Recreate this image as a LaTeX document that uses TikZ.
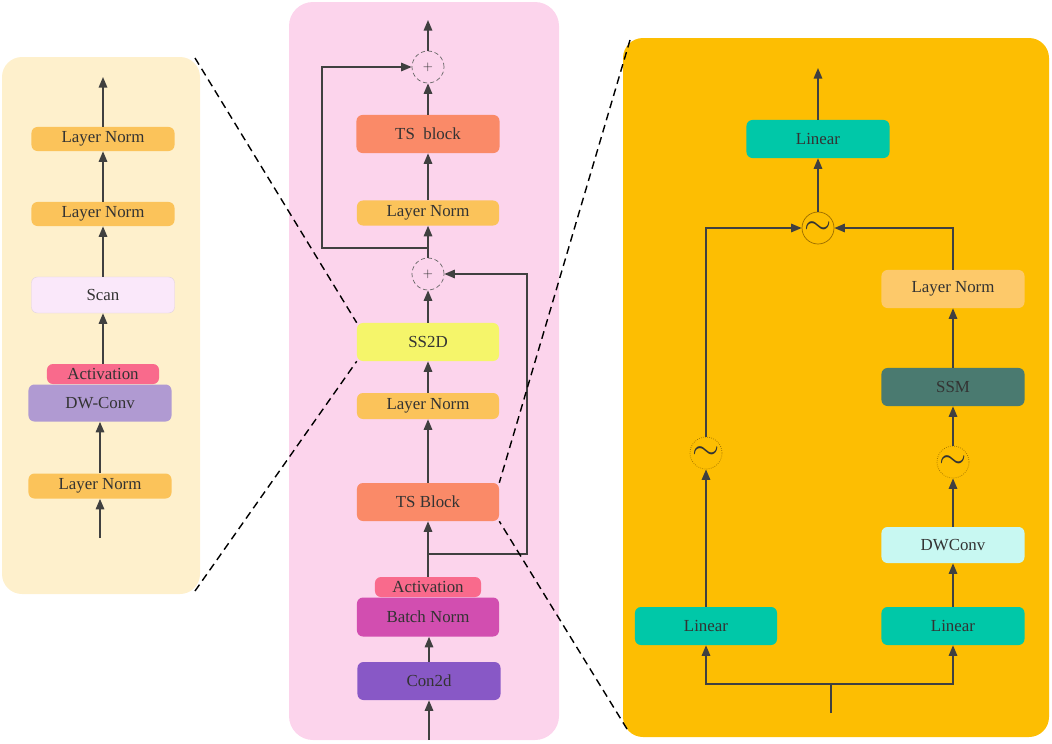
\documentclass[tikz,border=0pt]{standalone}
\usepackage{fontspec}
\setmainfont{Liberation Serif}
\newfontfamily\boxfont{Liberation Serif}
\usetikzlibrary{arrows.meta}

\definecolor{txtgray}{HTML}{333333}
\definecolor{linegray}{HTML}{404040}
\definecolor{leftbg}{HTML}{FEF0CC}
\definecolor{midbg}{HTML}{FCD4EC}
\definecolor{rightbg}{HTML}{FDBE02}
\definecolor{normfill}{HTML}{FBC35A}
\definecolor{scanfill}{HTML}{FAE8FA}
\definecolor{actfill}{HTML}{F96A8C}
\definecolor{dwfill}{HTML}{B09AD2}
\definecolor{tsfill}{HTML}{FA8A68}
\definecolor{ssfill}{HTML}{F5F56A}
\definecolor{bnfill}{HTML}{D24EB0}
\definecolor{convfill}{HTML}{8858C6}
\definecolor{linfill}{HTML}{00C8A8}
\definecolor{lnrfill}{HTML}{FDC96A}
\definecolor{ssmfill}{HTML}{4A7A70}
\definecolor{dwrfill}{HTML}{C8F8F2}
\definecolor{mixline}{HTML}{9A6C00}

\tikzset{
  blk/.style={rounded corners=0.15cm, inner sep=0pt, minimum width=3.575cm,
    minimum height=0.95cm, text=txtgray, font=\boxfont\fontsize{12}{14}\selectfont},
  nrm/.style={blk, fill=normfill, minimum height=0.6cm},
  act/.style={blk, fill=actfill, minimum height=0.5cm},
  arr/.style={draw=linegray, line width=1.2pt, -{Triangle[length=7.5pt,width=6pt]}},
  wire/.style={draw=linegray, line width=1.2pt},
  addop/.style={circle, draw=gray!80!black, densely dashed, line width=0.5pt,
    minimum size=0.8cm, inner sep=0pt, text=txtgray, font=\small},
  mixop/.style={circle, draw=mixline, line width=0.5pt,
    minimum size=0.8cm, inner sep=0pt, text=txtgray},
  zoomline/.style={line width=1pt, dash pattern=on 5.5pt off 3.5pt}
}

\newcommand{\mixsign}{\fontsize{24}{24}\selectfont$\sim$}

\begin{document}
\begin{tikzpicture}[x=0.025cm, y=-0.025cm]
\useasboundingbox (0,0) rectangle (1052,743);

% Panels
\fill [leftbg, rounded corners=0.5cm] (2,57) rectangle (200,594);%
\fill [midbg, rounded corners=0.6cm] (289,2) rectangle (559,740);%
\fill [rightbg, rounded corners=0.5cm] (623,38) rectangle (1049,737);%

% Left panel: scan module
\node [nrm] (lnA) at (103,139) {Layer Norm};%
\node [nrm] (lnB) at (103,214) {Layer Norm};%
\node [blk, fill=scanfill, draw=scanfill!80!gray, line width=0.3pt, minimum height=0.9cm] (scan) at (103,295) {Scan};%
\node [act, minimum width=2.8cm] (actL) at (103,374) {Activation};%
\node [blk, fill=dwfill, minimum height=0.925cm] (dwc) at (100,403) {DW-Conv};%
\node [nrm, minimum height=0.625cm] (lnC) at (100,486) {Layer Norm};%
\coordinate (inL) at (100,538);%
\coordinate (outL) at (103,77);%

\draw [arr] (inL) -- (lnC.south);%
\draw [arr] (lnC.north) -- (dwc.south);%
\draw [arr] (actL.north) -- (scan.south);%
\draw [arr] (scan.north) -- (lnB.south);%
\draw [arr] (lnB.north) -- (lnA.south);%
\draw [arr] (lnA.north) -- (outL);%

% Middle panel: main block
\node [addop] (plusT) at (428,67) {$+$};%
\node [blk, fill=tsfill] (tsT) at (428,134) {TS\ \ block};%
\node [nrm, minimum width=3.55cm, minimum height=0.625cm] (lnM1) at (428,213) {Layer Norm};%
\node [addop] (plusM) at (428,274) {$+$};%
\node [blk, fill=ssfill, minimum width=3.55cm] (ss2d) at (428,342) {SS2D};%
\node [nrm, minimum width=3.55cm, minimum height=0.65cm] (lnM2) at (428,406) {Layer Norm};%
\node [blk, fill=tsfill, minimum width=3.55cm] (tsM) at (428,502) {TS Block};%
\node [act, minimum width=2.65cm] (actM) at (428,587) {Activation};%
\node [blk, fill=bnfill, minimum width=3.55cm, minimum height=0.975cm] (bn) at (428,617) {Batch Norm};%
\node [blk, fill=convfill, minimum height=0.95cm] (conv) at (429,681) {Con2d};%
\coordinate (inM) at (429,740);%
\coordinate (outM) at (428,20);%
\coordinate (br1) at (428,248);%
\coordinate (skipL) at (322,248);%
\coordinate (br2) at (428,554);%
\coordinate (skipR) at (527,554);%

\draw [arr] (inM) -- (conv.south);%
\draw [arr] (conv.north) -- (conv.north |- bn.south);%
\draw [arr] (actM.north) -- (tsM.south);%
\draw [arr] (tsM.north) -- (lnM2.south);%
\draw [arr] (lnM2.north) -- (ss2d.south);%
\draw [arr] (ss2d.north) -- (plusM.south);%
\draw [arr] (plusM.north) -- (lnM1.south);%
\draw [arr] (lnM1.north) -- (tsT.south);%
\draw [arr] (tsT.north) -- (plusT.south);%
\draw [arr] (plusT.north) -- (outM);%

% Drawing residual paths
\draw [arr] (br1) -- (skipL) |- (plusT.west);%
\draw [arr] (br2) -- (skipR) |- (plusM.east);%

% Right panel: TS block detail
\node [blk, fill=linfill] (linT) at (818,139) {Linear};%
\node [mixop] (mix) at (818,228) {\mixsign};%
\node [blk, fill=lnrfill] (lnR) at (953,289) {Layer Norm};%
\node [blk, fill=ssmfill] (ssm) at (953,387) {SSM};%
\node [mixop, densely dotted] (tilR) at (953,462) {\mixsign};%
\node [mixop, densely dotted] (tilL) at (706,453) {\mixsign};%
\node [blk, fill=dwrfill, minimum height=0.9cm] (dwR) at (953,545) {DWConv};%
\node [blk, fill=linfill, minimum width=3.55cm] (linL) at (706,626) {Linear};%
\node [blk, fill=linfill] (linR) at (953,626) {Linear};%
\coordinate (inR) at (831,713);%
\coordinate (jR) at (831,684);%
\coordinate (outR) at (818,68);%

\draw [wire] (inR) -- (jR);%
\draw [arr] (jR) -| (linL.south);%
\draw [arr] (jR) -| (linR.south);%
\draw [arr] (linL.north) -- (tilL.south);%
\draw [arr] (tilL.north) |- (mix.west);%
\draw [arr] (linR.north) -- (dwR.south);%
\draw [arr] (dwR.north) -- (tilR.south);%
\draw [arr] (tilR.north) -- (ssm.south);%
\draw [arr] (ssm.north) -- (lnR.south);%
\draw [arr] (lnR.north) |- (mix.east);%
\draw [arr] (mix.north) -- (linT.south);%
\draw [arr] (linT.north) -- (outR);%

% Drawing zoom lines
\coordinate (leftTop) at (195,58);%
\coordinate (leftBot) at (195,591);%
\coordinate (rightTop) at (630,40);%
\coordinate (rightBot) at (627,729);%
\draw [zoomline] (leftTop) -- (ss2d.north west);%
\draw [zoomline] (leftBot) -- (ss2d.south west);%
\draw [zoomline] (rightTop) -- (tsM.north east);%
\draw [zoomline] (rightBot) -- (tsM.south east);%

\end{tikzpicture}
\end{document}
